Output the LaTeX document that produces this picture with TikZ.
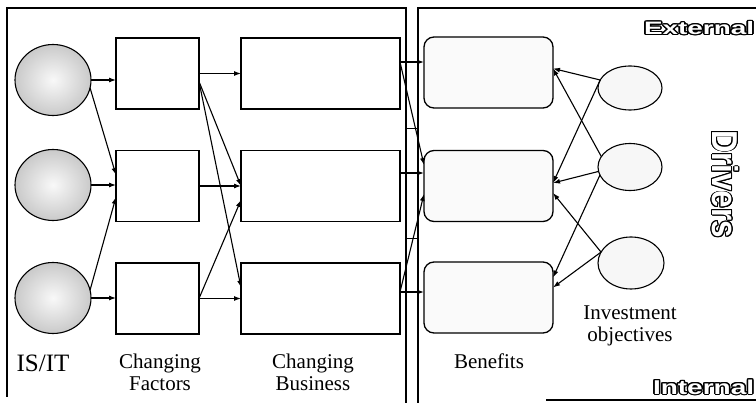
\documentclass[tikz,border=0pt]{standalone}
\usepackage{fontspec}
\setmainfont{Liberation Serif}
\newfontfamily\headfont{Liberation Sans}
\usepackage[copies]{contour}
\contourlength{1pt}
\usetikzlibrary{shapes.geometric,arrows.meta,calc}

% white lettering with a black rim
\newcommand{\rimtext}[1]{\contour{black}{\textcolor{white}{#1}}}

\begin{document}
\begin{tikzpicture}[x=1pt,y=-1pt,
  every node/.style={inner sep=0pt, outer sep=0pt},
  frame/.style={line width=1.3pt},
  enabler/.style={ellipse, draw, line width=1.1pt, minimum width=76pt, minimum height=71pt,
    shading=radial, inner color=gray!5, outer color=gray!42},
  plainbox/.style={rectangle, draw, line width=1.3pt, minimum height=71pt},
  benefit/.style={rectangle, rounded corners=10pt, draw, line width=1.3pt, fill=gray!4,
    minimum width=129pt, minimum height=71pt},
  objective/.style={ellipse, draw, line width=1.1pt, fill=gray!6, minimum width=64pt},
  link/.style={line width=1.1pt, -{Latex[length=7pt,width=5pt]}},
  caption/.style={font=\fontsize{21}{22}\selectfont, align=center, anchor=north},
  outlined/.style={font=\headfont\bfseries}
]
\useasboundingbox (0,0) rectangle (756,403);

% panel frames
\draw[frame] (7,397) -- (7,8) -- (406,8) -- (406,403);
\draw[frame] (418,403) -- (418,8) -- (756,8);
\draw[frame] (546,400) -- (756,400);
\draw[line width=0.8pt] (406,128) -- (418,128);
\draw[line width=0.8pt] (406,238) -- (418,238);

% IS/IT enablers
\node[enabler] (c1) at (53,80) {};
\node[enabler] (c2) at (53,185) {};
\node[enabler] (c3) at (53,298) {};

% changing factors
\node[plainbox, minimum width=83pt] (f1) at (157.5,73.5) {};
\node[plainbox, minimum width=83pt] (f2) at (157.5,186) {};
\node[plainbox, minimum width=83pt] (f3) at (157.5,298.5) {};

% changing business
\node[plainbox, minimum width=159pt] (b1) at (320.5,73.5) {};
\node[plainbox, minimum width=159pt] (b2) at (320.5,186) {};
\node[plainbox, minimum width=159pt] (b3) at (320.5,298.5) {};

% benefits
\node[benefit] (n1) at (488.5,72.5) {};
\node[benefit] (n2) at (488.5,186) {};
\node[benefit] (n3) at (488.5,297.5) {};

% investment objectives
\node[objective, minimum height=44pt] (o1) at (630,88) {};
\node[objective, minimum height=47pt] (o2) at (630,167) {};
\node[objective, minimum height=52pt, minimum width=66pt] (o3) at (631,263) {};

% enablers -> factors
\draw[link] (c1.east) -- (c1.east -| f1.west);
\draw[link] (c1.-12) -- ([yshift=11pt]f2.west);
\draw[link] (c2.east) -- (c2.east -| f2.west);
\draw[link] (c3.12) -- ([yshift=-11pt]f2.west);
\draw[link] (c3.east) -- (c3.east -| f3.west);

% factors -> business
\draw[link] (f1.east) -- (f1.east -| b1.west);
\draw[link] ([yshift=-8pt]f1.east) -- (b2.west);
\draw[link] ([yshift=-8pt]f1.east) -- ([yshift=11pt]b3.west);
\draw[link] (f2.east) -- (b2.west);
\draw[link] (f3.east) -- ([yshift=-14pt]b2.west);
\draw[link] (f3.east) -- (b3.west);

% business -> benefits
\draw[link] ([yshift=11.5pt]b1.east) -- ([yshift=11.5pt]b1.east -| n1.west);
\draw[link] ([yshift=11.5pt]b1.east) -- ([yshift=21pt]n2.west);
\draw[link] ([yshift=13pt]b2.east) -- ([yshift=13pt]b2.east -| n2.west);
\draw[link] ([yshift=6.5pt]b3.east) -- ([yshift=-8pt]n2.west);
\draw[link] ([yshift=6.5pt]b3.east) -- ([yshift=6.5pt]b3.east -| n3.west);

% objectives -> benefits
\draw[link] (o1.165) -- ([yshift=4pt]n1.east);
\draw[link] (o1.165) -- ([yshift=3pt]n2.east);
\draw[link] (o2.160) -- ([yshift=4pt]n1.east);
\draw[link] (o2.188) -- ([yshift=3pt]n2.east);
\draw[link] (o2.195) -- ([yshift=20pt]n3.east);
\draw[link] (o3.160) -- ([yshift=-7pt]n2.east);
\draw[link] (o3.160) -- ([yshift=10pt]n3.east);

% column captions
\node[caption, font=\fontsize{25}{26}\selectfont] (lisit) at (43,355) {IS/IT};
\node[caption] (lfac) at (160,354) {Changing\\Factors};
\node[caption] (lbus) at (313,354) {Changing\\Business};
\node[caption] (lben) at (489,354) {Benefits};
\node[caption] (lobj) at (630,306) {Investment\\objectives};

% driver headings
\node[outlined, anchor=west, font=\headfont\bfseries\fontsize{18}{18}\selectfont] (lext) at (644,28.5)
  {\scalebox{1.55}[1]{\rimtext{External}}};
\node[outlined, anchor=west, font=\headfont\bfseries\fontsize{20}{20}\selectfont] (lint) at (653,387.5)
  {\scalebox{1.4}[1]{\rimtext{Internal}}};
\node[outlined, rotate=-90, font=\headfont\bfseries\fontsize{36}{36}\selectfont] (ldrv) at (725,184)
  {\scalebox{0.87}[1]{\rimtext{Drivers}}};
\end{tikzpicture}
\end{document}
